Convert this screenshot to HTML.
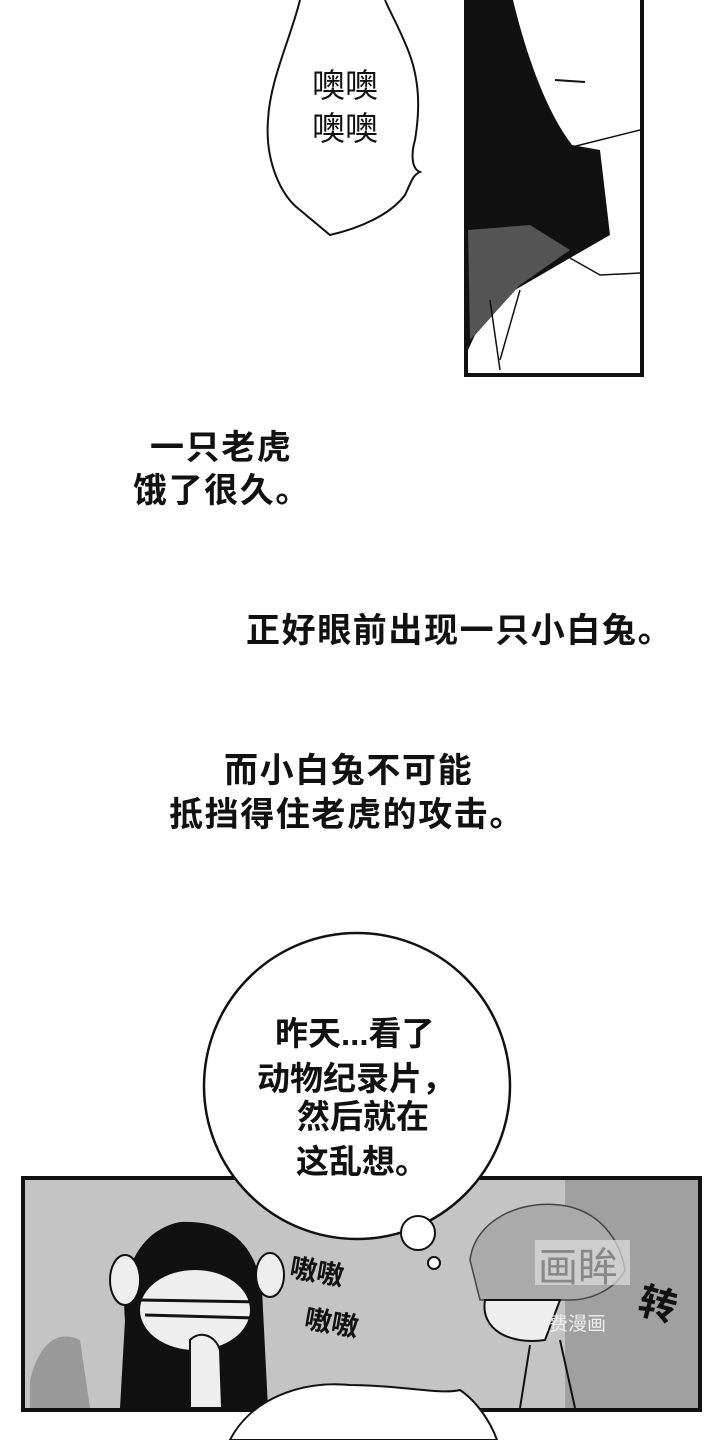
<!DOCTYPE html>
<html><head><meta charset="utf-8"><style>
html,body{margin:0;padding:0;background:#fff;}
svg{display:block;}
text{font-family:"Liberation Sans","Noto Sans CJK SC",sans-serif;fill:#111;font-weight:bold;}
.n{letter-spacing:1.6px;}
</style></head><body>
<svg width="720" height="1440" viewBox="0 0 720 1440" xmlns="http://www.w3.org/2000/svg">
<rect width="720" height="1440" fill="#fff"/>
<!-- top bubble -->
<path d="M300,0 C290,40 270,80 268,120 C265,160 280,195 300,210 L330,235 C360,228 390,215 405,195 C412,180 413,175 420,172 C410,168 412,150 415,140 C420,110 420,80 408,50 C398,25 390,12 385,0" fill="none" stroke="#111" stroke-width="2"/>
<text x="345" y="97" font-size="33" text-anchor="middle" style="font-weight:normal">噢噢</text>
<text x="345" y="140" font-size="33" text-anchor="middle" style="font-weight:normal">噢噢</text>
<!-- top right panel -->
<rect x="466" y="-5" width="176" height="380" fill="#fff" stroke="#111" stroke-width="4"/>
<path d="M468,0 L513,0 C525,50 545,110 572,145 L600,150 L610,235 L570,258 L515,290 L475,335 L468,350 Z" fill="#111"/>
<path d="M468,230 L530,225 L570,250 L520,285 L470,340 Z" fill="#555"/>
<path d="M555,80 L585,82" stroke="#111" stroke-width="2"/>
<path d="M568,148 L640,130 M570,258 L600,275 L640,273 M490,300 L500,370 M520,290 L500,360" stroke="#111" stroke-width="1.5" fill="none"/>
<!-- narration -->
<text class="n" x="150" y="459" font-size="34">一只老虎</text>
<text class="n" x="133" y="502" font-size="34">饿了很久。</text>
<text class="n" x="246" y="642" font-size="34">正好眼前出现一只小白兔。</text>
<text class="n" x="224" y="782" font-size="34">而小白兔不可能</text>
<text class="n" x="169" y="826" font-size="34">抵挡得住老虎的攻击。</text>
<!-- bottom panel -->
<rect x="23" y="1178" width="677" height="232" fill="#c4c4c4" stroke="#111" stroke-width="4"/>
<rect x="565" y="1180" width="133" height="228" fill="#a0a0a0"/>
<!-- left character -->
<path d="M120,1408 L125,1320 C120,1270 140,1230 180,1222 C225,1220 255,1240 262,1290 L268,1408 Z" fill="#111"/>
<ellipse cx="195" cy="1310" rx="55" ry="40" fill="#eee"/>
<path d="M140,1300 L260,1302 M145,1315 L255,1318" stroke="#111" stroke-width="3"/>
<path d="M190,1340 C200,1330 215,1335 220,1350 L222,1408 L190,1408 Z" fill="#eee" stroke="#111" stroke-width="2"/>
<ellipse cx="125" cy="1280" rx="15" ry="25" fill="#eee" stroke="#111" stroke-width="2"/>
<ellipse cx="270" cy="1275" rx="14" ry="22" fill="#eee" stroke="#111" stroke-width="2"/>
<path d="M30,1380 C40,1340 60,1330 80,1340 L90,1408 L30,1408 Z" fill="#999"/>
<!-- right character -->
<path d="M470,1260 C475,1220 520,1200 560,1205 C600,1210 620,1240 625,1270 C615,1290 590,1300 570,1300 L480,1300 Z" fill="#aaa" stroke="#444" stroke-width="1.5"/>
<path d="M485,1300 C480,1330 510,1345 545,1340 L560,1300 Z" fill="#eee" stroke="#111" stroke-width="2"/>
<path d="M530,1345 L520,1408 M560,1340 L575,1408" stroke="#111" stroke-width="2"/>
<rect x="535" y="1240" width="95" height="45" fill="#ddd" opacity="0.7"/>
<text x="538" y="1281" font-size="40" style="fill:#888;font-weight:normal">画眸</text>
<text x="530" y="1330" font-size="19" style="fill:#eee;font-weight:normal">免费漫画</text>
<text x="640" y="1318" font-size="38" transform="rotate(15 660 1300)">转</text>
<!-- SFX -->
<text x="290" y="1280" font-size="27" transform="rotate(10 310 1270)">嗷嗷</text>
<text x="305" y="1332" font-size="27" transform="rotate(10 330 1320)">嗷嗷</text>
<!-- bottom bubble -->
<path d="M230,1440 C250,1400 300,1380 350,1385 C400,1385 440,1395 460,1390 C475,1400 490,1420 497,1440 Z" fill="#fff" stroke="#111" stroke-width="2"/>
<!-- thought bubble -->
<circle cx="357" cy="1086" r="153" fill="#fff" stroke="#111" stroke-width="2.5"/>
<circle cx="418" cy="1233" r="17" fill="#fff" stroke="#111" stroke-width="2"/>
<circle cx="434" cy="1263" r="6" fill="#fff" stroke="#111" stroke-width="2"/>
<text x="275" y="1045" font-size="33">昨天...看了</text>
<text x="257" y="1090" font-size="33">动物纪录片，</text>
<text x="297" y="1128" font-size="33">然后就在</text>
<text x="296" y="1173" font-size="33">这乱想。</text>
</svg>
</body></html>
